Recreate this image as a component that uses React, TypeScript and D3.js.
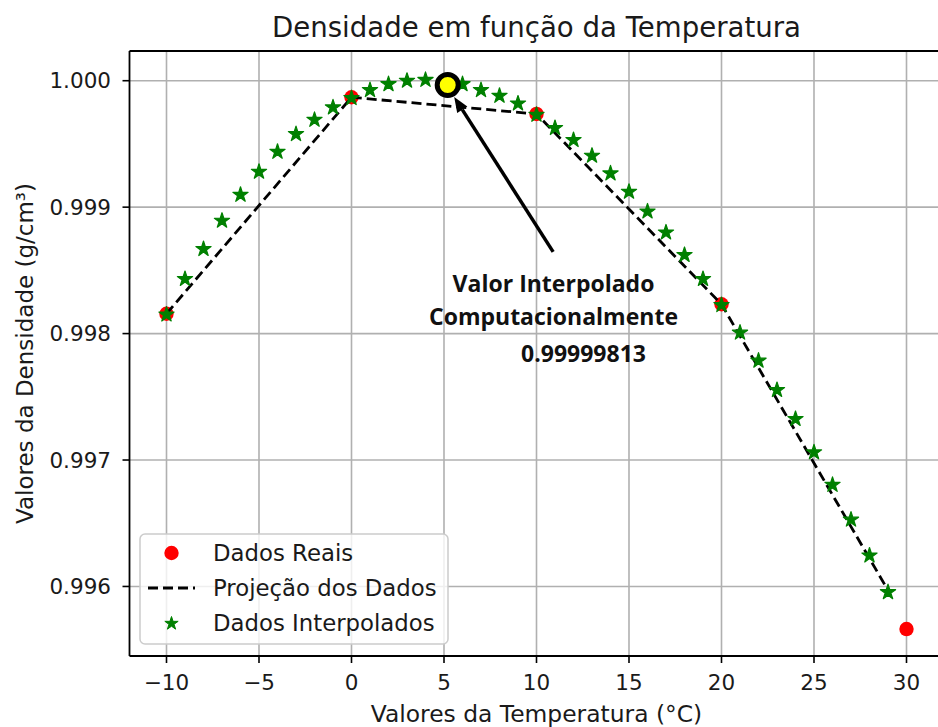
import React from "react";
import * as d3 from "d3";

// measured values (water density vs temperature)
const realTemps = [-10, 0, 10, 20, 30];
const realDens = [0.998157, 0.999869, 0.999737, 0.998232, 0.995663];

const projTemps = [-10, 0, 10, 20, 29];
const projDens = [0.998157, 0.999869, 0.999737, 0.998232, 0.99597];

const interpTemps = [
  -10, -9, -8, -7, -6, -5, -4, -3, -2, -1, 0, 1, 2, 3, 4, 5, 6, 7, 8, 9,
  10, 11, 12, 13, 14, 15, 16, 17, 18, 19, 20, 21, 22, 23, 24, 25, 26, 27, 28, 29,
];
const interpDens = [
  0.998157, 0.998438, 0.998675, 0.998899, 0.999104, 0.999286, 0.999444, 0.999584, 0.999697, 0.999795,
  0.999869, 0.999932, 0.999979, 1.000006, 1.000013, 0.999998, 0.999979, 0.999932, 0.999887, 0.999826,
  0.999737, 0.999632, 0.999537, 0.999413, 0.999273, 0.999128, 0.998972, 0.998806, 0.998628, 0.998438,
  0.998232, 0.998014, 0.997792, 0.99756, 0.997331, 0.997067, 0.99681, 0.996535, 0.996251, 0.995961,
];

const xTicks = [-10, -5, 0, 5, 10, 15, 20, 25, 30];
const yTicks = [0.996, 0.997, 0.998, 0.999, 1.0];

const highlightT = 5.2;
const highlightD = 0.999966;
const annotationLines = ["Valor Interpolado", "Computacionalmente", "0.99999813"];

const W = 938;
const H = 727;
const FONT = "DejaVu Sans, sans-serif";

export default function App() {
  const x = d3.scaleLinear().domain([-12, 32]).range([129.5, 943.5]);
  const y = d3.scaleLinear().domain([0.99545, 1.000235]).range([656, 51]);
  const left = x.range()[0];
  const right = x.range()[1];
  const top = y.range()[1];
  const bottom = y.range()[0];

  const fmtX = (v: number) => (v < 0 ? "\u2212" + Math.abs(v) : String(v));
  const fmtY = d3.format(".3f");

  const projLine = d3
    .line<number>()
    .x((_, i) => x(projTemps[i]))
    .y((d) => y(d))(projDens);

  const star = d3.symbol(d3.symbolStar, 72)() as string;
  const legendStar = d3.symbol(d3.symbolStar, 55)() as string;

  // arrow from annotation text to highlighted point
  const tailX = x(10.9);
  const tailY = y(0.998646);
  const tipX = x(highlightT) + 6.5;
  const tipY = y(highlightD) + 12;
  const ang = Math.atan2(tipY - tailY, tipX - tailX);
  const headLen = 15;
  const headW = 6;
  const bx = tipX - headLen * Math.cos(ang);
  const by = tipY - headLen * Math.sin(ang);
  const head = [
    [tipX, tipY],
    [bx + headW * Math.sin(ang), by - headW * Math.cos(ang)],
    [bx - headW * Math.sin(ang), by + headW * Math.cos(ang)],
  ]
    .map((p) => p.join(","))
    .join(" ");

  return (
    <svg
      width={W}
      height={H}
      style={{ position: "absolute", left: 0, top: 0, background: "#fff" }}
      fontFamily={FONT}
    >
      <rect x={0} y={0} width={W} height={H} fill="#fff" />
      <defs>
        <clipPath id="plot">
          <rect x={left} y={top} width={right - left} height={bottom - top} />
        </clipPath>
      </defs>

      {/* grid */}
      <g stroke="#b0b0b0" strokeWidth={1.6}>
        {xTicks.map((t) => (
          <line key={"gx" + t} x1={x(t)} x2={x(t)} y1={top} y2={bottom} />
        ))}
        {yTicks.map((t) => (
          <line key={"gy" + t} x1={left} x2={right} y1={y(t)} y2={y(t)} />
        ))}
      </g>

      <g clipPath="url(#plot)">
        {/* Dados Reais */}
        {realTemps.map((t, i) => (
          <circle key={"r" + t} cx={x(t)} cy={y(realDens[i])} r={7.2} fill="#ff0000" />
        ))}
        {/* Projecao */}
        <path d={projLine || ""} fill="none" stroke="#000" strokeWidth={2.8} strokeDasharray="10,5" />
        {/* Interpolados */}
        {interpTemps.map((t, i) => (
          <path
            key={"s" + t}
            d={star}
            transform={`translate(${x(t)},${y(interpDens[i]) + 0.8})`}
            fill="#008000"
            stroke="#008000"
            strokeWidth={1.2}
            strokeLinejoin="round"
          />
        ))}
      </g>

      {/* spines */}
      <g stroke="#000" strokeWidth={1.8} fill="none">
        <line x1={left} x2={left} y1={top} y2={bottom} />
        <line x1={left} x2={right} y1={bottom} y2={bottom} />
        <line x1={left} x2={right} y1={top} y2={top} />
        <line x1={right} x2={right} y1={top} y2={bottom} />
      </g>

      {/* x ticks */}
      {xTicks.map((t) => (
        <g key={"xt" + t}>
          <line x1={x(t)} x2={x(t)} y1={bottom} y2={bottom + 7} stroke="#000" strokeWidth={1.6} />
          <text x={x(t)} y={690} textAnchor="middle" fontSize={21.5} fill="#1a1a1a">
            {fmtX(t)}
          </text>
        </g>
      ))}
      {/* y ticks */}
      {yTicks.map((t) => (
        <g key={"yt" + t}>
          <line x1={left - 7} x2={left} y1={y(t)} y2={y(t)} stroke="#000" strokeWidth={1.6} />
          <text x={111} y={y(t)} dy="0.36em" textAnchor="end" fontSize={21.5} fill="#1a1a1a">
            {fmtY(t)}
          </text>
        </g>
      ))}

      {/* labels */}
      <text x={(left + right) / 2} y={37} textAnchor="middle" fontSize={27.6} fill="#1a1a1a">
        Densidade em função da Temperatura
      </text>
      <text x={(left + right) / 2} y={722} textAnchor="middle" fontSize={23.4} fill="#1a1a1a">
        Valores da Temperatura (°C)
      </text>
      <text
        transform={`translate(25,${(top + bottom) / 2}) rotate(-90)`}
        textAnchor="middle"
        dy="0.36em"
        fontSize={23}
        fill="#1a1a1a"
      >
        Valores da Densidade (g/cm³)
      </text>

      {/* legend */}
      <g>
        <rect x={140} y={534} width={308} height={110} rx={5} fill="#fff" fillOpacity={0.8} stroke="#cccccc" strokeWidth={1.5} />
        <circle cx={171.5} cy={553} r={7.2} fill="#ff0000" />
        <line x1={148} x2={195} y1={588} y2={588} stroke="#000" strokeWidth={2.8} strokeDasharray="10,5" />
        <path d={legendStar} transform="translate(171.5,623.5)" fill="#008000" stroke="#008000" strokeWidth={1} />
        <text x={213} y={553} dy="0.36em" fontSize={22.8} fill="#1a1a1a">Dados Reais</text>
        <text x={213} y={588} dy="0.36em" fontSize={22.8} fill="#1a1a1a">Projeção dos Dados</text>
        <text x={213} y={623} dy="0.36em" fontSize={22.8} fill="#1a1a1a">Dados Interpolados</text>
      </g>

      {/* annotation */}
      <line x1={tailX} y1={tailY} x2={bx} y2={by} stroke="#000" strokeWidth={3.5} />
      <polygon points={head} fill="#000" />
      <circle cx={x(highlightT)} cy={y(highlightD)} r={10.5} fill="#ffff00" stroke="#000" strokeWidth={5} />
      <g fontFamily="Open Sans, sans-serif" fontWeight={700} fill="#111" fontSize={23}>
        <text x={553.5} y={291.5} textAnchor="middle">{annotationLines[0]}</text>
        <text x={553.5} y={325} textAnchor="middle">{annotationLines[1]}</text>
        <text x={583.5} y={361.5} textAnchor="middle">{annotationLines[2]}</text>
      </g>
    </svg>
  );
}
